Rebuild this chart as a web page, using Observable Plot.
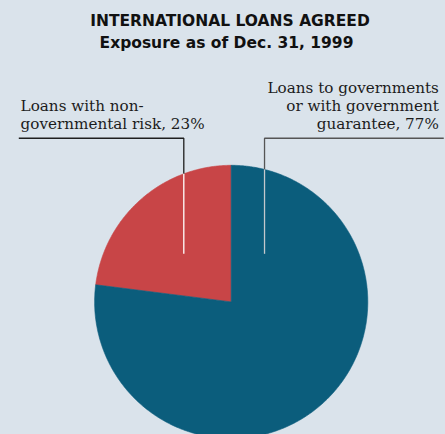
<!DOCTYPE html>
<html><head><meta charset="utf-8">
<script src="https://cdn.jsdelivr.net/npm/d3@7"></script>
<script src="https://cdn.jsdelivr.net/npm/@observablehq/plot@0.6"></script>
<style>
html,body{margin:0;padding:0;background:#dae3eb;width:445px;height:434px;overflow:hidden}
#head{height:60px;box-sizing:border-box;padding-top:11.2px;font-family:"DejaVu Sans",sans-serif;font-weight:bold;font-size:15.5px;line-height:21.5px;color:#111;text-align:center}
#t{padding-left:15px}
#s{padding-left:8px}
#chart svg{display:block}
</style></head><body>
<div id="head"><div id="t">INTERNATIONAL LOANS AGREED</div><div id="s">Exposure as of Dec. 31, 1999</div></div>
<div id="chart"></div>
<script>
// ---- data ----
const categories = ["Loans with non-governmental risk", "Loans to governments or with government guarantee"];
const shares = [23, 77];
const labels = ["Loans with non-\ngovernmental risk, 23%", "Loans to governments\nor with government\nguarantee, 77%"];
const colors = ["#c84547", "#0b5d7c"];

// ---- annotation layout (in pie-radius units) ----
const leaderLayout = [
  {textX: -1.542, anchor: "start", ruleEnd: -1.555, elbowX: -0.347, top: "#1e1e1e", inner: "#ffffff"},
  {textX: 1.520, anchor: "end", ruleEnd: 1.556, elbowX: 0.244, top: "#555555", inner: "#c4c8cc"}
];
const ruleY = 1.198, tipY = 0.352, textBaseY = 1.267;

// ---- pie geometry built with d3.pie ----
const total = d3.sum(shares);
const start = -2 * Math.PI * shares[0] / total;
const arcs = d3.pie().sort(null).startAngle(start).endAngle(start + 2 * Math.PI)(shares);
const slices = arcs.map((a, i) => {
  const pts = [{x: 0, y: 0, name: categories[i]}];
  const n = Math.ceil((a.endAngle - a.startAngle) / (Math.PI / 360));
  for (let k = 0; k <= n; k++) {
    const t = a.startAngle + (a.endAngle - a.startAngle) * k / n;
    pts.push({x: Math.sin(t), y: Math.cos(t), name: categories[i]});
  }
  pts.push({x: 0, y: 0, name: categories[i]});
  return pts;
});

const marks = [];
slices.forEach((pts, i) => {
  marks.push(Plot.line(pts, {x: "x", y: "y", fill: colors[i], stroke: colors[i], strokeWidth: 0.6, strokeLinejoin: "miter"}));
});
leaderLayout.forEach((L, i) => {
  const edgeY = Math.sqrt(1 - L.elbowX * L.elbowX);
  marks.push(Plot.line([{x: L.ruleEnd, y: ruleY}, {x: L.elbowX, y: ruleY}, {x: L.elbowX, y: edgeY}],
    {x: "x", y: "y", stroke: L.top, strokeWidth: 1.3, strokeLinecap: "butt", strokeLinejoin: "miter"}));
  marks.push(Plot.line([{x: L.elbowX, y: edgeY}, {x: L.elbowX, y: tipY}],
    {x: "x", y: "y", stroke: L.inner, strokeWidth: 1.3, strokeLinecap: "butt"}));
  marks.push(Plot.text([{x: L.textX, y: textBaseY, label: labels[i]}],
    {x: "x", y: "y", text: "label", textAnchor: L.anchor, lineAnchor: "bottom", lineHeight: 1.17,
     fontFamily: "DejaVu Serif", fontSize: 15.2, fill: "#1c1c1c"}));
});

const chart = Plot.plot({
  width: 445, height: 374, margin: 0,
  x: {domain: [-1, 1], range: [94.1, 367.3], axis: null},
  y: {domain: [-1, 1], range: [378, 104.8], axis: null},
  style: {background: "transparent"},
  marks
});
document.getElementById("chart").appendChild(chart);
</script>
</body></html>
